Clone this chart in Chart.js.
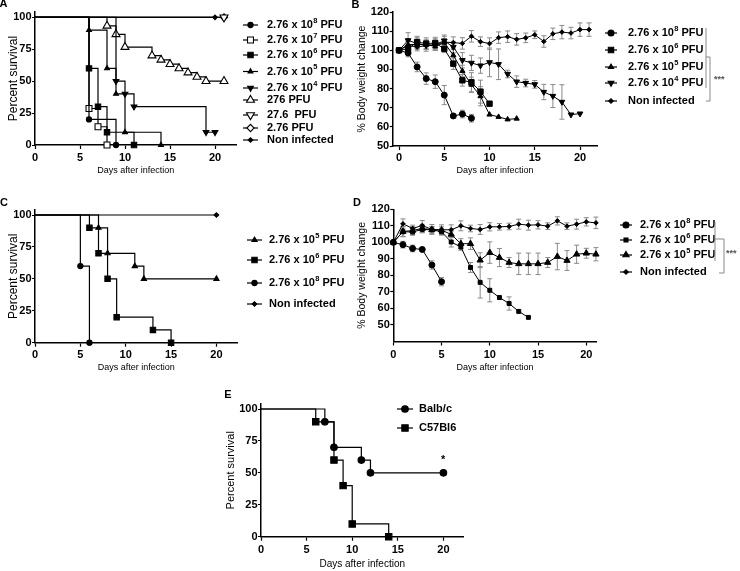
<!DOCTYPE html>
<html lang="en">
<head>
<meta charset="UTF-8">
<title>Survival and body weight after infection</title>
<script src="https://cdn.jsdelivr.net/npm/chart.js"></script>
<style>
  body { margin: 0; background: #fff; }
  #figure { position: relative; width: 740px; height: 571px; overflow: hidden; background: #fff; }
  #figure canvas { position: absolute; }
</style>
</head>
<body>
<div id="figure">
  <canvas id="panelA"></canvas>
  <canvas id="panelB"></canvas>
  <canvas id="panelC"></canvas>
  <canvas id="panelD"></canvas>
  <canvas id="panelE"></canvas>
</div>

<script>
// ---------- ticks ----------
const dayTicks = [0, 5, 10, 15, 20];
const survTicks = [0, 25, 50, 75, 100];
const weightTicks = [50, 60, 70, 80, 90, 100, 110, 120];

// ---------- A: survival, dose range ----------
const aLabels = ['2.76 x 10^8 PFU', '2.76 x 10^7 PFU', '2.76 x 10^6 PFU', '2.76 x 10^5 PFU',
  '2.76 x 10^4 PFU', '276 PFU', '27.6  PFU', '2.76 PFU', 'Non infected'];
const aDaysE8 = [0, 6, 9];                  const aSurvE8 = [100, 20, 0];
const aDaysE7 = [0, 6, 7, 8];               const aSurvE7 = [100, 28.6, 14.3, 0];
const aDaysE6 = [0, 6, 7, 8, 11];           const aSurvE6 = [100, 60, 30, 10, 0];
const aDaysE5 = [0, 6, 8, 9, 10, 14];       const aSurvE5 = [100, 90, 60, 40, 10, 0];
const aDaysE4 = [0, 9, 10, 11, 19, 20];     const aSurvE4 = [100, 50, 40, 30, 10, 10];
const aDays276 = [0, 8, 9, 10, 13, 14, 15, 16, 17, 18, 19, 21];
const aSurv276 = [100, 93.3, 86.7, 76.7, 70, 66.7, 63.3, 60, 56.7, 53.3, 50, 50];
const aDays27 = [0, 21];                    const aSurv27 = [100, 100];
const aDays2 = [0, 21];                     const aSurv2 = [100, 100];
const aDaysNon = [0, 20];                   const aSurvNon = [100, 100];

// ---------- B: body weight, dose range ----------
const bLabels = ['2.76 x 10^8 PFU', '2.76 x 10^6 PFU', '2.76 x 10^5 PFU', '2.76 x 10^4 PFU', 'Non infected'];
const bDays = [0, 1, 2, 3, 4, 5, 6, 7, 8, 9, 10, 11, 12, 13, 14, 15, 16, 17, 18, 19, 20, 21];
const bE8 = [100, 98.6, 91.3, 85.2, 83.6, 76.6, 65.7, 66.7, 64.5];
const bE8sd = [0, 2, 2.5, 3, 3.5, 5, 1, 2, 2];
const bE6 = [100, 100.8, 104.3, 103.5, 103.8, 100.8, 93, 84.3, 83.3, 78.4, 72.1];
const bE6sd = [0, 2, 3, 3, 3, 2, 3, 3, 5, 6, 0];
const bE5 = [100, 103, 103, 103, 102, 104, 97.4, 89.2, 82, 76, 66.4, 65.2, 63.9, 64.3];
const bE5sd = [0, 2, 2, 2, 2, 2, 3, 3, 4, 5, 0, 0, 0, 0];
const bE4 = [100, 105.2, 103.5, 102.5, 103, 105, 101.7, 94.8, 93.4, 92, 93.7, 92.7, 87.6, 83.6,
  82.9, 82.2, 78.2, 76.1, 73, 66.4, 66.9];
const bE4sd = [0, 4, 3, 3, 3, 3, 3, 4, 4, 4, 7.5, 8, 2, 3, 2, 2, 4, 6, 9, 0, 0];
const bNon = [100, 102.5, 101.7, 102.5, 102.7, 104.3, 104, 103.6, 107.3, 104.5, 103.5, 106.6, 107.1,
  105.7, 106.5, 108.1, 104.6, 108.6, 109.5, 109, 110.8, 110.8];
const bNonSd = [0, 2, 2, 2, 2.5, 3, 3, 3, 3, 2.5, 3, 3, 3, 3, 2.5, 2, 3, 3, 3.5, 3, 3.5, 3.5];

// ---------- C: survival, second experiment ----------
const cLabels = ['2.76 x 10^5 PFU', '2.76 x 10^6 PFU', '2.76 x 10^8 PFU', 'Non infected'];
const cDaysE5 = [0, 7, 8, 11, 12, 20];      const cSurvE5 = [100, 90, 70, 60, 50, 50];
const cDaysE6 = [0, 6, 7, 8, 9, 13, 15];    const cSurvE6 = [100, 90, 70, 50, 20, 10, 0];
const cDaysE8 = [0, 5, 6];                  const cSurvE8 = [100, 60, 0];
const cDaysNon = [0, 20];                   const cSurvNon = [100, 100];

// ---------- D: body weight, second experiment ----------
const dLabels = ['2.76 x 10^8 PFU', '2.76 x 10^6 PFU', '2.76 x 10^5 PFU', 'Non infected'];
const dDays = bDays;
const dE8 = [100, 98.6, 96.3, 95.7, 86.3, 76.2];
const dE8sd = [0, 2, 2, 1, 2.5, 2.5];
const dE6 = [100, 106.4, 106.3, 107.8, 107.6, 106.4, 100.2, 97.2, 84.8, 75.8, 71, 66.6, 63, 58.2, 54.6];
const dE6sd = [0, 3, 2, 2, 2, 2, 3, 2, 3, 9.5, 7, 0, 4, 0, 0];
const dE5 = [100, 106.5, 107.2, 108.4, 107.6, 107.4, 104.8, 99.2, 99.2, 89.2, 93.8, 90.8, 87.8, 87,
  87, 87, 87.8, 91.4, 89, 92.8, 93.4, 92.8];
const dE5sd = [0, 3, 2.5, 2.5, 2, 2, 2, 3, 3.5, 4.5, 6.5, 5.5, 3, 6.5, 6.5, 6.5, 3, 8, 6, 5.5, 3, 4];
const dNon = [100, 111.2, 108.4, 110.2, 107.8, 107.6, 107.6, 110, 108.4, 107.8, 109.4, 109.4, 109.6,
  111, 110.4, 110.6, 109.8, 113, 109.8, 111, 112.4, 111.8];
const dNonSd = [0, 3, 2, 3, 3, 3, 3, 3, 2, 3, 2.5, 2, 2, 3, 3, 2.5, 2, 2.5, 2, 3, 2.5, 3.5];

// ---------- E: mouse strains ----------
const eLabels = ['Balb/c', 'C57Bl6'];
const eDaysBalb = [0, 7, 8, 11, 12, 20];    const eSurvBalb = [100, 90, 70, 60, 50, 50];
const eDaysC57 = [0, 6, 8, 9, 10, 14];      const eSurvC57 = [100, 90, 60, 40, 10, 0];

const FONT = 'Arial, "Liberation Sans", Helvetica, sans-serif';
Chart.defaults.font.family = FONT;
Chart.defaults.color = '#000';

// marker shapes
const M = {
  dot:     { style: 'circle', r: 2.6 },
  openSq:  { style: 'rect', r: 4.2, open: true },
  sq:      { style: 'rect', r: 3.8 },
  bigSq:   { style: 'rect', r: 4.5 },
  smallSq: { style: 'rect', r: 2.8 },
  tri:     { style: 'triangle', r: 3 },
  bigTri:  { style: 'triangle', r: 3.6 },
  invTri:  { style: 'triangle', r: 3.3, rot: 180 },
  openTri: { style: 'triangle', r: 4.6, open: true },
  openInv: { style: 'triangle', r: 4.6, rot: 180, open: true },
  openDia: { style: 'rectRot', r: 3.6, open: true },
  small:   { style: 'rectRot', r: 2.3 },
  circle:  { style: 'circle', r: 3 },
  bigDot:  { style: 'circle', r: 3.3 }
};

function kmSet(label, days, surv, m) {
  return {
    label: label,
    data: days.map((d, i) => ({ x: d, y: surv[i] })),
    stepped: 'before',
    borderColor: '#000', borderWidth: 1.2, fill: false, clip: false,
    marker: m,
    pointStyle: m.style, pointRotation: m.rot || 0,
    pointRadius: c => c.dataIndex === 0 ? 0 : m.r,
    pointBackgroundColor: m.open ? '#fff' : '#000',
    pointBorderColor: '#000', pointBorderWidth: 1.1
  };
}

function weightSet(label, days, vals, sd, m) {
  return {
    label: label,
    data: vals.map((v, i) => ({ x: days[i], y: v })),
    errors: sd,
    borderColor: '#000', borderWidth: 1, fill: false, clip: false, tension: 0,
    marker: m,
    pointStyle: m.style, pointRotation: m.rot || 0, pointRadius: m.r,
    pointBackgroundColor: m.open ? '#fff' : '#000',
    pointBorderColor: '#000', pointBorderWidth: 1
  };
}

function drawMarker(ctx, m, x, y) {
  ctx.fillStyle = m.open ? '#fff' : '#000';
  ctx.strokeStyle = '#000';
  ctx.lineWidth = 1.1;
  Chart.helpers.drawPoint(ctx, { pointStyle: m.style, radius: m.r, rotation: m.rot || 0, borderWidth: 1.1 }, x, y);
}

function drawLabel(ctx, text, x, y, size) {
  const parts = text.match(/^(.*)\^(\d+)(.*)$/);
  ctx.fillStyle = '#000';
  ctx.textAlign = 'left';
  ctx.textBaseline = 'middle';
  ctx.font = 'bold ' + size + 'px ' + FONT;
  if (!parts) { ctx.fillText(text, x, y); return; }
  ctx.fillText(parts[1], x, y);
  x += ctx.measureText(parts[1]).width + 0.4;
  ctx.font = 'bold ' + (size * 0.68) + 'px ' + FONT;
  ctx.fillText(parts[2], x, y - size * 0.38);
  x += ctx.measureText(parts[2]).width;
  ctx.font = 'bold ' + size + 'px ' + FONT;
  ctx.fillText(parts[3], x, y);
}

// error bars, legend, panel letters and significance marks
const figurePlugin = {
  id: 'figure',
  beforeDatasetsDraw(chart) {
    const ctx = chart.ctx, xs = chart.scales.x, ys = chart.scales.y;
    ctx.save();
    ctx.strokeStyle = '#8a8a8a';
    ctx.lineWidth = 1;
    chart.data.datasets.forEach(ds => {
      if (!ds.errors) return;
      ds.data.forEach((pt, j) => {
        const e = ds.errors[j];
        if (!e) return;
        const px = xs.getPixelForValue(pt.x);
        const top = ys.getPixelForValue(pt.y + e);
        const bot = ys.getPixelForValue(pt.y - e);
        ctx.beginPath();
        ctx.moveTo(px, top); ctx.lineTo(px, bot);
        ctx.moveTo(px - 2.5, top); ctx.lineTo(px + 2.5, top);
        ctx.moveTo(px - 2.5, bot); ctx.lineTo(px + 2.5, bot);
        ctx.stroke();
      });
    });
    ctx.restore();
  },
  afterDraw(chart, args, o) {
    const ctx = chart.ctx, ox = o.box.x, oy = o.box.y;
    ctx.save();
    ctx.fillStyle = '#000';
    ctx.font = 'bold 11px ' + FONT;
    ctx.textAlign = 'center';
    ctx.textBaseline = 'middle';
    ctx.fillText(o.letter, o.letterAt[0] - ox, o.letterAt[1] - oy);

    chart.data.datasets.forEach((ds, i) => {
      const y = o.rows[i] - oy;
      const x1 = o.line[0] - ox, x2 = o.line[1] - ox;
      ctx.strokeStyle = '#000';
      ctx.lineWidth = 1.2;
      ctx.beginPath(); ctx.moveTo(x1, y); ctx.lineTo(x2, y); ctx.stroke();
      drawMarker(ctx, ds.marker, (x1 + x2) / 2, y);
      drawLabel(ctx, ds.label, o.textX - ox, y, 11);
    });

    if (o.bracket) {
      ctx.strokeStyle = '#8a8a8a';
      ctx.lineWidth = 1;
      o.bracket.forEach(path => {
        ctx.beginPath();
        path.forEach((p, k) => k ? ctx.lineTo(p[0] - ox, p[1] - oy) : ctx.moveTo(p[0] - ox, p[1] - oy));
        ctx.stroke();
      });
    }
    if (o.mark) {
      ctx.fillStyle = o.mark.color;
      ctx.font = o.mark.font + ' ' + FONT;
      ctx.textAlign = 'left';
      ctx.textBaseline = 'middle';
      ctx.fillText(o.mark.text, o.mark.at[0] - ox, o.mark.at[1] - oy);
    }
    ctx.restore();
  }
};

function makePanel(id, p) {
  const canvas = document.getElementById(id);
  canvas.width = p.box.w; canvas.height = p.box.h;
  canvas.style.left = p.box.x + 'px'; canvas.style.top = p.box.y + 'px';
  canvas.style.width = p.box.w + 'px'; canvas.style.height = p.box.h + 'px';

  const tickFont = { size: 11, weight: 'bold' };
  const xLine = p.xTitle.size * 1.2, yLine = p.yTitle.size * 1.2;
  return new Chart(canvas, {
    type: 'line',
    data: { datasets: p.datasets },
    plugins: [figurePlugin],
    options: {
      responsive: false, animation: false, events: [],
      layout: {
        autoPadding: false,
        padding: { left: 0, top: p.area.t - p.box.y, right: p.box.x + p.box.w - p.area.r, bottom: 0 }
      },
      scales: {
        x: {
          type: 'linear', min: p.xRange[0], max: p.xRange[1],
          afterBuildTicks: s => { s.ticks = dayTicks.map(v => ({ value: v })); },
          afterFit: s => { s.height = p.box.y + p.box.h - p.area.b; },
          grid: { drawOnChartArea: false, drawTicks: true, tickLength: 4, tickColor: '#000', tickWidth: 1.2 },
          border: { display: true, color: '#000', width: 1.5 },
          ticks: { font: tickFont, color: '#000', padding: p.xLabelGap - 4 - tickFont.size * 0.6, maxRotation: 0, autoSkip: false },
          title: { display: true, text: 'Days after infection', color: '#000',
            font: { size: p.xTitle.size }, padding: { top: 0, bottom: p.box.y + p.box.h - p.xTitle.y - xLine / 2 } }
        },
        y: {
          min: p.yRange[0], max: p.yRange[1],
          afterBuildTicks: s => { s.ticks = p.yTicks.map(v => ({ value: v })); },
          afterFit: s => { s.width = p.area.l - p.box.x; },
          grid: { drawOnChartArea: false, drawTicks: true, tickLength: 3, tickColor: '#000', tickWidth: 1.2 },
          border: { display: true, color: '#000', width: 1.5 },
          ticks: { font: tickFont, color: '#000', padding: 0.5, autoSkip: false },
          title: { display: true, text: p.yTitle.text, color: '#000',
            font: { size: p.yTitle.size }, padding: { top: p.yTitle.x - p.box.x - yLine / 2, bottom: 0 } }
        }
      },
      plugins: {
        legend: { display: false },
        tooltip: { enabled: false },
        figure: Object.assign({ box: p.box }, p.deco)
      }
    }
  });
}

makePanel('panelA', {
  box: { x: 0, y: 0, w: 350, h: 178 },
  area: { l: 35, r: 236.6, t: 12.2, b: 145 },
  xRange: [0, 22.4], yRange: [0, 104], yTicks: survTicks, xLabelGap: 13,
  xTitle: { y: 171, size: 9 }, yTitle: { x: 13.5, size: 12, text: 'Percent survival' },
  datasets: [
    kmSet(aLabels[0], aDaysE8, aSurvE8, M.dot),
    kmSet(aLabels[1], aDaysE7, aSurvE7, M.openSq),
    kmSet(aLabels[2], aDaysE6, aSurvE6, M.sq),
    kmSet(aLabels[3], aDaysE5, aSurvE5, { style: 'triangle', r: 2.8 }),
    kmSet(aLabels[4], aDaysE4, aSurvE4, M.invTri),
    kmSet(aLabels[5], aDays276, aSurv276, M.openTri),
    kmSet(aLabels[6], aDays27, aSurv27, M.openInv),
    kmSet(aLabels[7], aDays2, aSurv2, M.openDia),
    kmSet(aLabels[8], aDaysNon, aSurvNon, M.small)
  ],
  deco: { letter: 'A', letterAt: [3.5, 4], rows: [25, 40, 55, 71.5, 88, 100, 115, 128, 140], line: [243, 258], textX: 267 }
});

makePanel('panelB', {
  box: { x: 350, y: 0, w: 390, h: 178 },
  area: { l: 392.7, r: 597.2, t: 12, b: 146 },
  xRange: [-0.7, 21.9], yRange: [50, 120], yTicks: weightTicks, xLabelGap: 12,
  xTitle: { y: 171, size: 9 }, yTitle: { x: 362, size: 10.5, text: '% Body weight change' },
  datasets: [
    weightSet(bLabels[0], bDays, bE8, bE8sd, M.circle),
    weightSet(bLabels[1], bDays, bE6, bE6sd, M.sq),
    weightSet(bLabels[2], bDays, bE5, bE5sd, M.tri),
    weightSet(bLabels[3], bDays, bE4, bE4sd, M.invTri),
    weightSet(bLabels[4], bDays, bNon, bNonSd, M.small)
  ],
  deco: {
    letter: 'B', letterAt: [355.5, 5], rows: [33, 50, 67, 83, 101], line: [605, 617], textX: 628,
    bracket: [[[706, 28], [706, 88]], [[706, 57], [710, 57], [710, 101], [706, 101]]],
    mark: { text: '***', at: [714, 80], font: 'bold 9px', color: '#555' }
  }
});

makePanel('panelC', {
  box: { x: 0, y: 180, w: 350, h: 195 },
  area: { l: 35, r: 237.3, t: 209.9, b: 342.7 },
  xRange: [0, 22.3], yRange: [0, 104], yTicks: survTicks, xLabelGap: 12.3,
  xTitle: { y: 368, size: 9 }, yTitle: { x: 14, size: 12, text: 'Percent survival' },
  datasets: [
    kmSet(cLabels[0], cDaysE5, cSurvE5, M.tri),
    kmSet(cLabels[1], cDaysE6, cSurvE6, M.sq),
    kmSet(cLabels[2], cDaysE8, cSurvE8, M.dot),
    kmSet(cLabels[3], cDaysNon, cSurvNon, M.small)
  ],
  deco: { letter: 'C', letterAt: [4, 203], rows: [240, 260, 283, 304], line: [247, 262], textX: 269 }
});

makePanel('panelD', {
  box: { x: 350, y: 180, w: 390, h: 195 },
  area: { l: 393.3, r: 596.9, t: 209.3, b: 341.5 },
  xRange: [0, 21.1], yRange: [40, 120], yTicks: weightTicks, xLabelGap: 13.5,
  xTitle: { y: 368, size: 9 }, yTitle: { x: 362, size: 10.5, text: '% Body weight change' },
  datasets: [
    weightSet(dLabels[0], dDays, dE8, dE8sd, M.circle),
    weightSet(dLabels[1], dDays, dE6, dE6sd, M.smallSq),
    weightSet(dLabels[2], dDays, dE5, dE5sd, M.bigTri),
    weightSet(dLabels[3], dDays, dNon, dNonSd, M.small)
  ],
  deco: {
    letter: 'D', letterAt: [357, 203], rows: [225, 240, 255, 272], line: [620, 632], textX: 640,
    bracket: [[[715, 222], [715, 261]], [[715, 239], [724, 239], [724, 273], [719, 273]]],
    mark: { text: '***', at: [726, 254], font: 'bold 9px', color: '#555' }
  }
});

makePanel('panelE', {
  box: { x: 200, y: 380, w: 320, h: 191 },
  area: { l: 261, r: 463.5, t: 403.9, b: 536.7 },
  xRange: [0, 22.2], yRange: [0, 104], yTicks: survTicks, xLabelGap: 13.3,
  xTitle: { y: 564, size: 10 }, yTitle: { x: 231, size: 11, text: 'Percent survival' },
  datasets: [
    kmSet(eLabels[0], eDaysBalb, eSurvBalb, M.bigDot),
    kmSet(eLabels[1], eDaysC57, eSurvC57, M.bigSq)
  ],
  deco: {
    letter: 'E', letterAt: [228, 394.5], rows: [409, 428], line: [397, 413], textX: 419,
    mark: { text: '*', at: [441, 460], font: 'bold 11px', color: '#000' }
  }
});
</script>
</body>
</html>
